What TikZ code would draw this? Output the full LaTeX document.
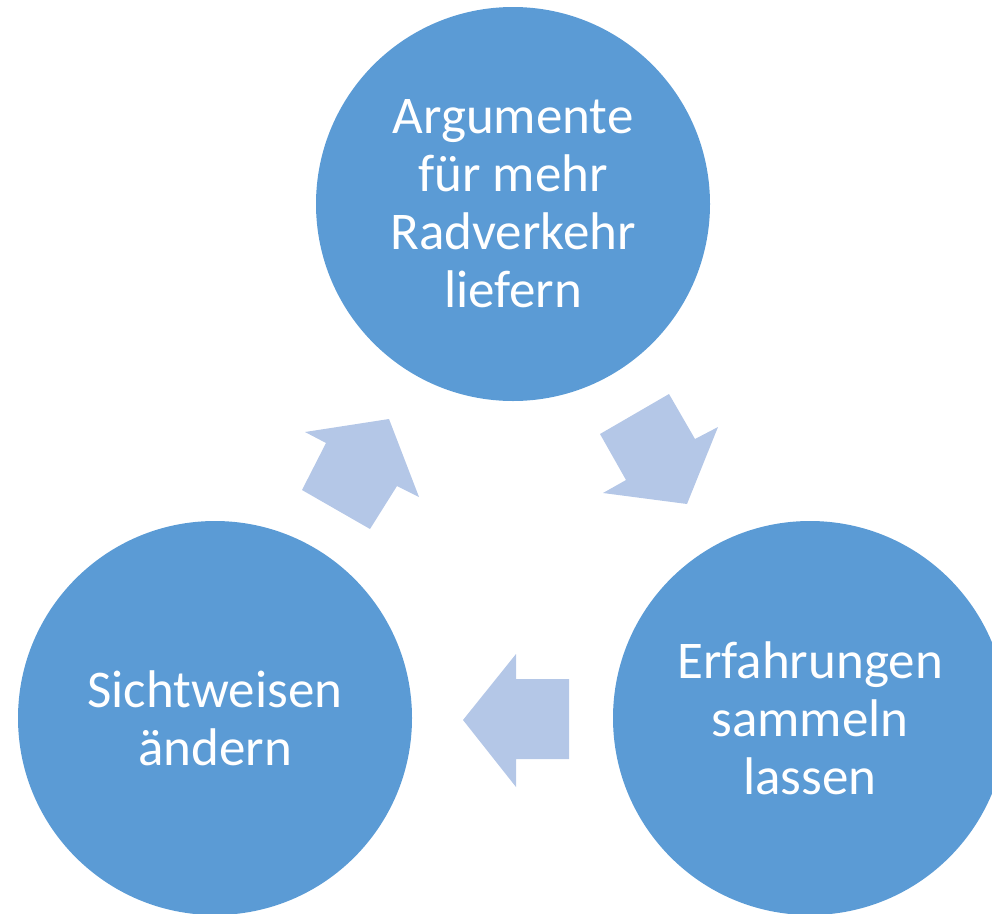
\documentclass[tikz,border=0pt]{standalone}
\usepackage{fontspec}
\setmainfont{Carlito}
\definecolor{circ}{HTML}{5B9BD5}
\definecolor{arr}{HTML}{B4C7E7}
\begin{document}
\begin{tikzpicture}[x=1pt,y=-1pt,
  bubble/.style={circle, fill=circ, draw=none, minimum size=394pt, inner sep=0pt,
    text=white, align=center, font=\fontsize{53}{58}\selectfont},
  blockarrow/.style={fill=arr, draw=none}]
\useasboundingbox (0,0) rectangle (992,913);
\begin{scope}
\clip (0,0) rectangle (992,913);
\node[bubble] (top) at (513,204) {Argumente\\für mehr\\Radverkehr\\liefern};
\node[bubble] (right) at (810,718) {Erfahrungen\\sammeln\\lassen};
\node[bubble] (left) at (215,718) {Sichtweisen\\ändern};
\end{scope}
% arrow left -> top
\fill[blockarrow] (389,419) -- (419,497) -- (397,486) -- (370,529) -- (302,490) -- (326,443) -- (305,432) -- cycle;
% arrow top -> right
\fill[blockarrow] (687,504) -- (603,493) -- (626,480) -- (600,434) -- (669,394) -- (695,439) -- (718,427) -- cycle;
% arrow right -> left
\fill[blockarrow] (463,720) -- (516,654) -- (516,679) -- (569,679) -- (569,759) -- (516,759) -- (516,787) -- cycle;
\end{tikzpicture}
\end{document}
